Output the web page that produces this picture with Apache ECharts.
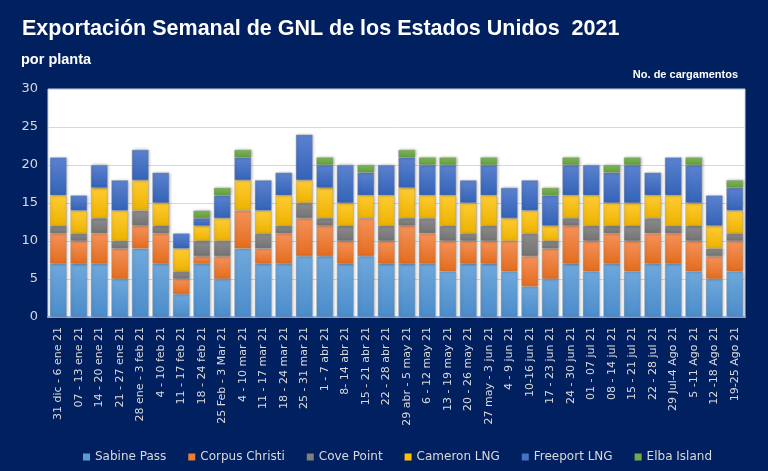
<!DOCTYPE html>
<html>
<head>
<meta charset="utf-8">
<script src="https://cdn.jsdelivr.net/npm/echarts@6/dist/echarts.min.js"></script>
<style>
  html, body { margin: 0; padding: 0; background: #002060; }
  #chart { width: 768px; height: 471px; }
</style>
</head>
<body>
<div id="chart"></div>
<script>
// semanas (eje x)
var weeks = [
  '31 dic - 6 ene 21', '07 - 13 ene 21', '14 - 20 ene 21', '21 - 27 ene 21',
  '28 ene - 3 feb 21', '4 - 10 feb 21', '11 - 17 feb 21', '18 - 24 feb 21',
  '25 Feb - 3 Mar 21', '4 - 10 mar 21', '11 - 17 mar 21', '18 - 24 mar 21',
  '25 - 31 mar 21', '1 - 7 abr 21', '8- 14 abr 21', '15 - 21 abr 21',
  '22 - 28 abr 21', '29 abr - 5 may 21', '6 - 12 may 21', '13 - 19 may 21',
  '20 - 26 may 21', '27 may - 3 jun 21', '4 - 9 jun 21', '10-16 jun 21',
  '17 - 23 jun 21', '24 - 30 jun 21', '01 - 07 jul 21', '08 - 14 jul 21',
  '15 - 21 jul 21', '22 - 28 jul 21', '29 Jul-4 Ago 21', '5 -11 Ago 21',
  '12 -18 Ago 21', '19-25 Ago 21'
];

// cargamentos por planta
var sabinePass    = [7,7,7,5,9,7,3,7,5,9,7,7,8,8,7,8,7,7,7,6,7,7,6,4,5,7,6,7,6,7,7,6,5,6];
var corpusChristi = [4,3,4,4,3,4,2,1,3,5,2,4,5,4,3,5,3,5,4,4,3,3,4,4,4,5,4,4,4,4,4,4,3,4];
var covePoint     = [1,1,2,1,2,1,1,2,2,0,2,1,2,1,2,0,2,1,2,2,1,2,0,3,1,1,2,1,2,2,1,2,1,1];
var cameronLNG    = [4,3,4,4,4,3,3,2,3,4,3,4,3,4,3,3,4,4,3,4,4,4,3,3,2,3,4,3,3,3,4,3,3,3];
var freeportLNG   = [5,2,3,4,4,4,2,1,3,3,4,3,6,3,5,3,4,4,4,4,3,4,4,4,4,4,4,4,5,3,5,5,4,3];
var elbaIsland    = [0,0,0,0,0,0,0,1,1,1,0,0,0,1,0,1,0,1,1,1,0,1,0,0,1,1,0,1,1,0,0,1,0,1];

var yTicks = [0, 5, 10, 15, 20, 25, 30];

var plants = [
  { name: 'Sabine Pass',    data: sabinePass,    c: ['#6FA8DC', '#4A8CCB'], icon: '#5B9BD5' },
  { name: 'Corpus Christi', data: corpusChristi, c: ['#F4925A', '#E46C1E'], icon: '#ED7D31' },
  { name: 'Cove Point',     data: covePoint,     c: ['#8C8C8C', '#737373'], icon: '#7F7F7F' },
  { name: 'Cameron LNG',    data: cameronLNG,    c: ['#FFCB33', '#EDB300'], icon: '#FFC000' },
  { name: 'Freeport LNG',   data: freeportLNG,   c: ['#5B82CF', '#3463B8'], icon: '#4472C4' },
  { name: 'Elba Island',    data: elbaIsland,    c: ['#7CB856', '#62A03C'], icon: '#70AD47' }
];

var chart = echarts.init(document.getElementById('chart'));

var series = plants.map(function (p) {
  return {
    name: p.name,
    type: 'bar',
    stack: 'total',
    barWidth: '82%',
    data: p.data.map(function (v) { return v === 0 ? null : v; }),
    itemStyle: {
      color: new echarts.graphic.LinearGradient(0, 0, 0, 1, [
        { offset: 0, color: p.c[0] },
        { offset: 1, color: p.c[1] }
      ]),
      borderColor: 'rgba(150,150,150,0.55)',
      borderWidth: 0.6,
      shadowColor: 'rgba(0,0,0,0.35)',
      shadowBlur: 3,
      shadowOffsetX: 1
    },
    emphasis: { disabled: true }
  };
});

chart.setOption({
  backgroundColor: '#002060',
  animation: false,
  title: [
    {
      text: 'Exportación Semanal de GNL de los Estados Unidos  2021',
      left: 17, top: 13,
      textStyle: { color: '#ffffff', fontSize: 21.5, fontWeight: 'bold', fontFamily: 'Liberation Sans' }
    },
    {
      text: 'por planta',
      left: 16, top: 47,
      textStyle: { color: '#ffffff', fontSize: 14.5, fontWeight: 'bold', fontFamily: 'Liberation Sans' }
    },
    {
      text: 'No. de cargamentos',
      right: 25, top: 64,
      textStyle: { color: '#ffffff', fontSize: 11, fontWeight: 'bold', fontFamily: 'Liberation Sans' }
    }
  ],
  legend: {
    bottom: 3,
    left: 78,
    itemWidth: 7,
    itemHeight: 7,
    itemGap: 22,
    icon: 'rect',
    textStyle: { color: '#d9d9d9', fontSize: 12, fontFamily: 'DejaVu Sans' },
    data: plants.map(function (p) {
      return { name: p.name, itemStyle: { color: p.icon, borderWidth: 0, shadowBlur: 0 } };
    })
  },
  grid: {
    left: 48, right: 23, top: 89, bottom: 154,
    show: true,
    backgroundColor: '#ffffff',
    borderColor: '#c8d4e8',
    borderWidth: 1
  },
  xAxis: {
    type: 'category',
    data: weeks,
    axisTick: { show: false },
    axisLine: { lineStyle: { color: '#8fb4e3', width: 2 } },
    axisLabel: {
      interval: 0,
      rotate: 90,
      color: '#d9d9d9',
      fontSize: 11,
      fontFamily: 'DejaVu Sans',
      margin: 10
    }
  },
  yAxis: {
    type: 'value',
    min: yTicks[0],
    max: yTicks[yTicks.length - 1],
    interval: 5,
    axisLine: { show: false },
    axisTick: { show: false },
    axisLabel: { color: '#d9d9d9', fontSize: 13, fontFamily: 'DejaVu Sans', margin: 10 },
    splitLine: { lineStyle: { color: '#d9d9d9', width: 1 } }
  },
  series: series
});
</script>
</body>
</html>
